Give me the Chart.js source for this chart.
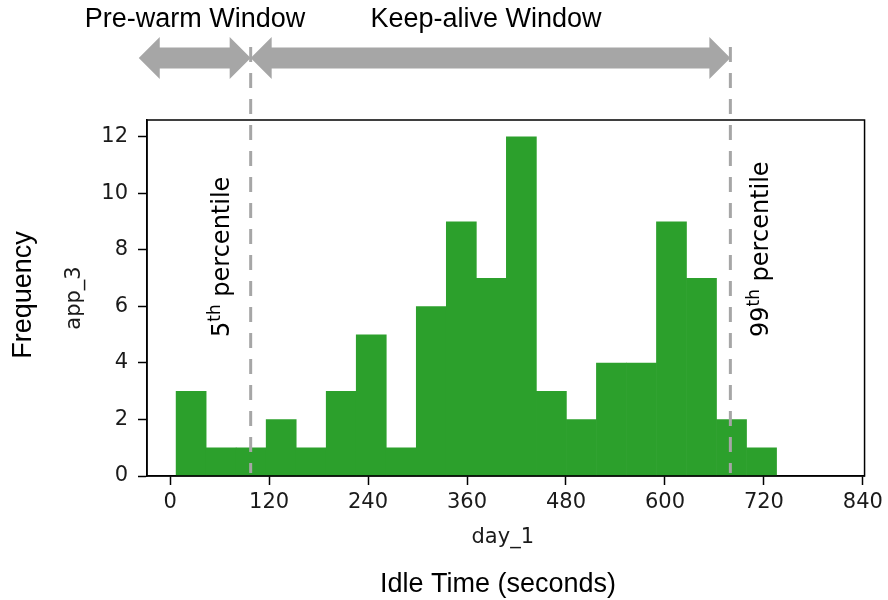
<!DOCTYPE html>
<html>
<head>
<meta charset="utf-8">
<script src="https://cdn.jsdelivr.net/npm/chart.js@4/dist/chart.umd.min.js"></script>
<style>
  body { margin: 0; background: #fff; }
  canvas { display: block; }
</style>
</head>
<body>
<canvas id="myChart" width="888" height="600"></canvas>
<script>
// Histogram data
const counts = [3, 1, 1, 2, 1, 3, 5, 1, 6, 9, 7, 12, 3, 2, 4, 4, 9, 7, 2, 1];
const binStart = 7.3;
const binWidth = 36.4;

// Axis ticks
const xTicks = [0, 120, 240, 360, 480, 600, 720, 840];
const yTicks = [0, 2, 4, 6, 8, 10, 12];

// Percentile markers (seconds)
const p5 = 97.7;
const p99 = 679.3;
const prewarmStart = -38;

// Labels
const xTitle = 'day_1';
const yTitle = 'app_3';
const outerXTitle = 'Idle Time (seconds)';
const outerYTitle = 'Frequency';
const windowLabels = ['Pre-warm Window', 'Keep-alive Window'];

const GREEN = '#2ca02c';
const GREY = '#a6a6a6';
const MPL = 'DejaVu Sans';
const OFFICE = 'Liberation Sans';

const bars = counts.map((c, i) => ({ x: binStart + binWidth * (i + 0.5), y: c }));

function drawArrow(ctx, x1, x2, cy) {
  const shaft = 10.5, head = 21, headLen = 21;
  ctx.beginPath();
  ctx.moveTo(x1, cy);
  ctx.lineTo(x1 + headLen, cy - head);
  ctx.lineTo(x1 + headLen, cy - shaft);
  ctx.lineTo(x2 - headLen, cy - shaft);
  ctx.lineTo(x2 - headLen, cy - head);
  ctx.lineTo(x2, cy);
  ctx.lineTo(x2 - headLen, cy + head);
  ctx.lineTo(x2 - headLen, cy + shaft);
  ctx.lineTo(x1 + headLen, cy + shaft);
  ctx.lineTo(x1 + headLen, cy + head);
  ctx.closePath();
  ctx.fill();
}

function drawPercentile(ctx, x, y, num, sup) {
  ctx.save();
  ctx.translate(x, y);
  ctx.rotate(-Math.PI / 2);
  ctx.textAlign = 'left';
  ctx.textBaseline = 'alphabetic';
  ctx.font = '24px "' + MPL + '"';
  ctx.fillText(num, 0, 0);
  let w = ctx.measureText(num).width;
  ctx.font = '17px "' + MPL + '"';
  ctx.fillText(sup, w, -9);
  w += ctx.measureText(sup).width;
  ctx.font = '24px "' + MPL + '"';
  ctx.fillText(' percentile', w, 0);
  ctx.restore();
}

const annotations = {
  id: 'annotations',
  afterDraw(chart) {
    const { ctx, chartArea: a, scales: { x } } = chart;
    const x5 = x.getPixelForValue(p5);
    const x99 = x.getPixelForValue(p99);

    ctx.save();
    // axes box
    ctx.strokeStyle = '#000';
    ctx.lineWidth = 1.5;
    ctx.strokeRect(a.left, a.top, a.right - a.left, a.bottom - a.top);

    // percentile lines
    ctx.strokeStyle = GREY;
    ctx.lineWidth = 3;
    ctx.setLineDash([15, 11]);
    [x5, x99].forEach(px => {
      ctx.beginPath();
      ctx.moveTo(px, 47);
      ctx.lineTo(px, 473);
      ctx.stroke();
    });
    ctx.setLineDash([]);

    // window arrows
    ctx.fillStyle = GREY;
    drawArrow(ctx, x.getPixelForValue(prewarmStart), x5, 58);
    drawArrow(ctx, x5, x99, 58);

    // texts
    ctx.fillStyle = '#000';
    ctx.textAlign = 'center';
    ctx.textBaseline = 'alphabetic';
    ctx.font = '27px "' + OFFICE + '"';
    ctx.fillText(windowLabels[0], 195, 27);
    ctx.fillText(windowLabels[1], 486, 27);
    ctx.fillText(outerXTitle, 498, 592);

    ctx.font = '21px "' + MPL + '"';
    ctx.fillStyle = '#1a1a1a';
    ctx.fillText(xTitle, (a.left + a.right) / 2 - 3, 543);

    ctx.save();
    ctx.translate(80, (a.top + a.bottom) / 2);
    ctx.rotate(-Math.PI / 2);
    ctx.fillText(yTitle, 0, 0);
    ctx.restore();

    ctx.fillStyle = '#000';
    ctx.save();
    ctx.translate(31, 295);
    ctx.rotate(-Math.PI / 2);
    ctx.font = '27px "' + OFFICE + '"';
    ctx.fillText(outerYTitle, 0, 0);
    ctx.restore();

    drawPercentile(ctx, x5 - 22, 337, '5', 'th');
    drawPercentile(ctx, x99 + 38, 337, '99', 'th');
    ctx.restore();
  }
};

const tickFont = { family: MPL, size: 21 };

new Chart(document.getElementById('myChart').getContext('2d'), {
  type: 'bar',
  data: {
    datasets: [{
      data: bars,
      backgroundColor: GREEN,
      borderWidth: 0,
      barPercentage: 1,
      categoryPercentage: 1
    }]
  },
  options: {
    responsive: false,
    animation: false,
    layout: { padding: { top: 120, right: 23, bottom: 0, left: 0 } },
    plugins: { legend: { display: false }, tooltip: { enabled: false } },
    scales: {
      x: {
        type: 'linear',
        min: -28,
        max: 842,
        offset: false,
        afterBuildTicks: s => { s.ticks = xTicks.map(v => ({ value: v })); },
        afterFit: s => { s.height = 124; },
        grid: { offset: false, drawOnChartArea: false, drawTicks: true, tickLength: 9, color: '#000', tickWidth: 1.5 },
        border: { color: '#000', width: 1.5 },
        ticks: { color: '#1a1a1a', font: tickFont, padding: 5, maxRotation: 0, autoSkip: false }
      },
      y: {
        min: 0,
        max: 12.6,
        afterBuildTicks: s => { s.ticks = yTicks.map(v => ({ value: v })); },
        afterFit: s => { s.width = 147; },
        grid: { drawOnChartArea: false, drawTicks: true, tickLength: 9, color: '#000', tickWidth: 1.5 },
        border: { color: '#000', width: 1.5 },
        ticks: { color: '#1a1a1a', font: tickFont, padding: 10 }
      }
    }
  },
  plugins: [annotations]
});
</script>
</body>
</html>
